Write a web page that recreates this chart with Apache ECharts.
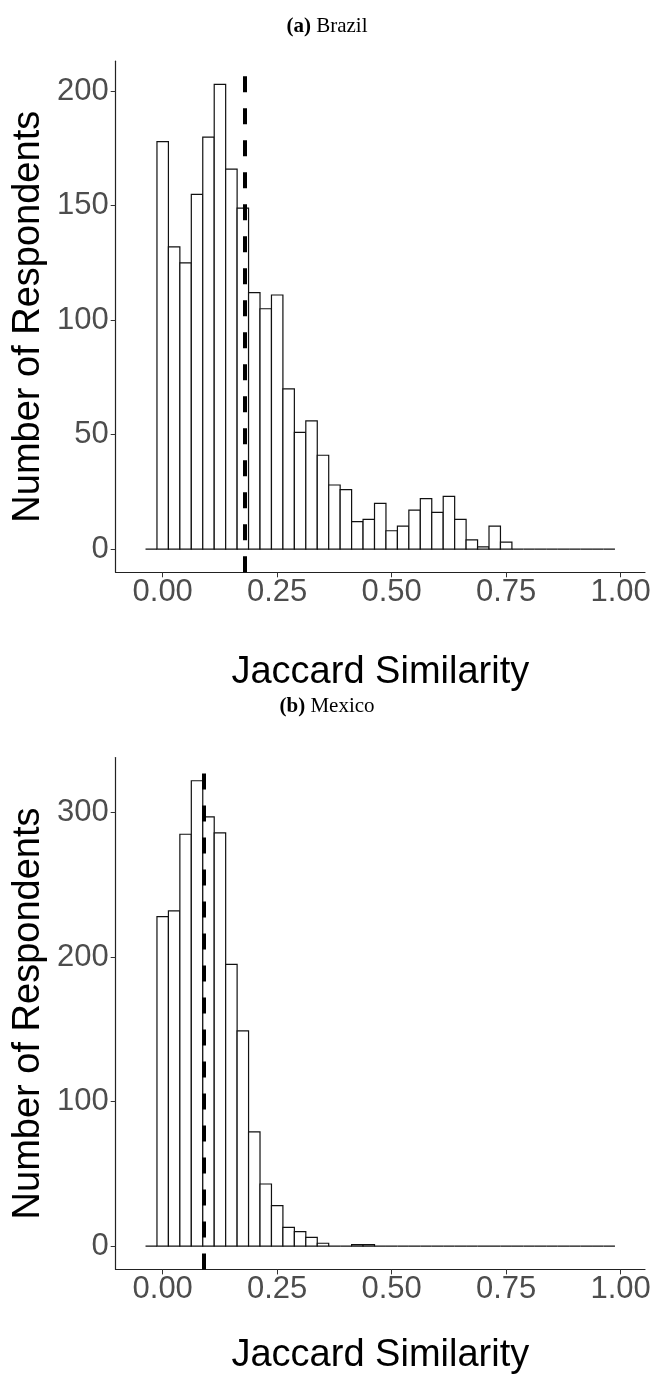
<!DOCTYPE html>
<html>
<head>
<meta charset="utf-8">
<script src="https://cdn.jsdelivr.net/npm/echarts@6/dist/echarts.min.js"></script>
<style>
  html, body { margin: 0; padding: 0; background: #fff; }
  #chart { width: 654px; height: 1387px; }
</style>
</head>
<body>
<div id="chart"></div>
<script>
// histogram bins (centres), width 0.025
const binCenters = [
  -0.025, 0, 0.025, 0.05, 0.075, 0.1, 0.125, 0.15, 0.175, 0.2, 0.225,
  0.25, 0.275, 0.3, 0.325, 0.35, 0.375, 0.4, 0.425, 0.45, 0.475,
  0.5, 0.525, 0.55, 0.575, 0.6, 0.625, 0.65, 0.675, 0.7, 0.725,
  0.75, 0.775, 0.8, 0.825, 0.85, 0.875, 0.9, 0.925, 0.95, 0.975
];
const binWidth = 0.025;

const brazilCounts = [
  0, 178, 132, 125, 155, 180, 203, 166, 149, 112, 105,
  111, 70, 51, 56, 41, 28, 26, 12, 13, 20,
  8, 10, 17, 22, 16, 23, 13, 4, 1, 10,
  3, 0, 0, 0, 0, 0, 0, 0, 0, 0
];
const mexicoCounts = [
  0, 228, 232, 285, 322, 297, 286, 195, 149, 79, 43,
  28, 13, 10, 6, 2, 0, 0, 1, 1, 0,
  0, 0, 0, 0, 0, 0, 0, 0, 0, 0,
  0, 0, 0, 0, 0, 0, 0, 0, 0, 0
];
const brazilMean = 0.181;
const mexicoMean = 0.094;

const xTicks = [0, 0.25, 0.5, 0.75, 1];
const brazilYTicks = [0, 50, 100, 150, 200];
const mexicoYTicks = [0, 100, 200, 300];

const chart = echarts.init(document.getElementById('chart'));

const sans = 'Liberation Sans, Arial, sans-serif';
const serif = 'Liberation Serif, Times New Roman, serif';

function renderBin(params, api) {
  const x = api.value(0);
  const n = api.value(1);
  const topLeft = api.coord([x - binWidth / 2, n]);
  const bottomRight = api.coord([x + binWidth / 2, 0]);
  return {
    type: 'rect',
    shape: {
      x: topLeft[0],
      y: topLeft[1],
      width: bottomRight[0] - topLeft[0],
      height: bottomRight[1] - topLeft[1]
    },
    style: { fill: '#fff', stroke: '#111', lineWidth: 1.2 }
  };
}

function xAxisFor(idx, gap) {
  return {
    type: 'value',
    gridIndex: idx,
    min: -0.1026,
    max: 1.0531,
    name: 'Jaccard Similarity',
    nameLocation: 'middle',
    nameGap: gap,
    nameMoveOverlap: false,
    nameTextStyle: { fontFamily: sans, fontSize: 38, color: '#000' },
    axisLine: { show: true, onZero: false, lineStyle: { color: '#222', width: 1.2 } },
    axisTick: { show: true, length: 5, customValues: xTicks, lineStyle: { color: '#333' } },
    axisLabel: {
      customValues: xTicks,
      formatter: v => v.toFixed(2),
      color: '#4d4d4d',
      fontFamily: sans,
      fontSize: 31,
      margin: 5
    },
    splitLine: { show: false }
  };
}

function yAxisFor(idx, min, max, ticks) {
  return {
    type: 'value',
    gridIndex: idx,
    min: min,
    max: max,
    name: 'Number of Respondents',
    nameLocation: 'middle',
    nameGap: 68,
    nameMoveOverlap: false,
    nameTextStyle: { fontFamily: sans, fontSize: 38, color: '#000' },
    axisLine: { show: true, onZero: false, lineStyle: { color: '#222', width: 1.2 } },
    axisTick: { show: true, length: 5, customValues: ticks, lineStyle: { color: '#333' } },
    axisLabel: {
      customValues: ticks,
      color: '#4d4d4d',
      fontFamily: sans,
      fontSize: 31,
      margin: 7
    },
    splitLine: { show: false }
  };
}

function meanLine(value) {
  return {
    silent: true,
    symbol: 'none',
    label: { show: false },
    lineStyle: { color: '#000', width: 4, type: [16, 16] },
    data: [{ xAxis: value }]
  };
}

const option = {
  animation: false,
  backgroundColor: '#fff',
  title: [
    {
      text: '{b|(a)} Brazil',
      left: 'center',
      top: 11,
      textStyle: {
        fontFamily: serif, fontSize: 21, fontWeight: 'normal', color: '#000',
        rich: { b: { fontFamily: serif, fontSize: 21, fontWeight: 'bold', color: '#000' } }
      }
    },
    {
      text: '{b|(b)} Mexico',
      left: 'center',
      top: 691,
      textStyle: {
        fontFamily: serif, fontSize: 21, fontWeight: 'normal', color: '#000',
        rich: { b: { fontFamily: serif, fontSize: 21, fontWeight: 'bold', color: '#000' } }
      }
    }
  ],
  grid: [
    { left: 115.7, top: 61.2, width: 529.3, height: 511.1 },
    { left: 115.7, top: 757.5, width: 529.3, height: 511.9 }
  ],
  xAxis: [xAxisFor(0, 81), xAxisFor(1, 67)],
  yAxis: [
    yAxisFor(0, -10.15, 213.15, brazilYTicks),
    yAxisFor(1, -16.1, 338.1, mexicoYTicks)
  ],
  series: [
    {
      name: 'Brazil',
      type: 'custom',
      xAxisIndex: 0,
      yAxisIndex: 0,
      renderItem: renderBin,
      encode: { x: 0, y: 1 },
      data: binCenters.map((c, i) => [c, brazilCounts[i]]),
      markLine: meanLine(brazilMean)
    },
    {
      name: 'Mexico',
      type: 'custom',
      xAxisIndex: 1,
      yAxisIndex: 1,
      renderItem: renderBin,
      encode: { x: 0, y: 1 },
      data: binCenters.map((c, i) => [c, mexicoCounts[i]]),
      markLine: meanLine(mexicoMean)
    }
  ]
};

chart.setOption(option);
</script>
</body>
</html>
